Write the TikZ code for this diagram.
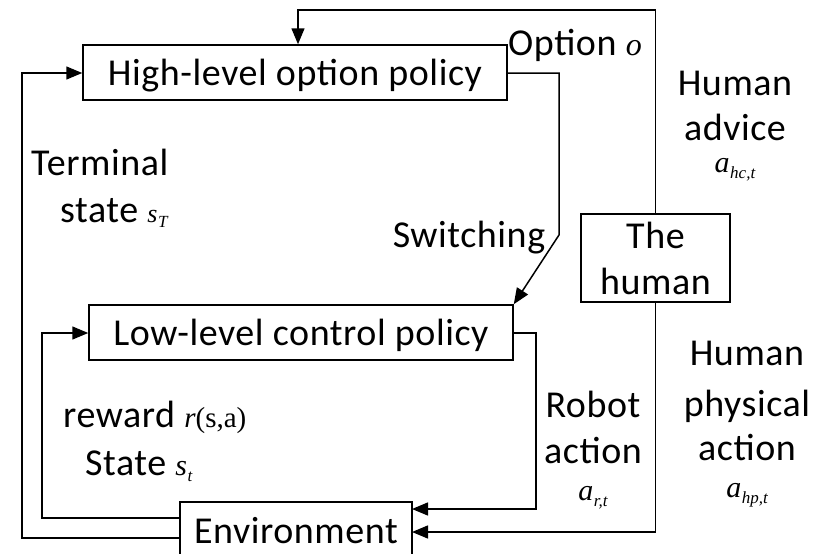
\documentclass[tikz,border=0pt]{standalone}
\usepackage{fontspec}
\setmainfont[LetterSpace=1.5]{Carlito}
\newfontfamily\tms{Liberation Serif}
\usetikzlibrary{arrows.meta}
% variable with a subscript, set in a Times-like italic
\newcommand\mvar[3][30]{{\tms\itshape\fontsize{#1}{#1}\selectfont #2\kern0.5pt\raisebox{-0.45ex}{\fontsize{17}{17}\selectfont #3}}}
\tikzset{
  box/.style={draw, line width=1.5pt, inner sep=0pt, font=\fontsize{38}{46}\selectfont},
  lbl/.style={inner sep=0pt, anchor=base, font=\fontsize{38}{46}\selectfont},
  lblw/.style={lbl, anchor=base west},
  link/.style={line width=1.5pt},
  arr/.style={link, -{Triangle[length=16pt,width=13pt]}}
}
\begin{document}
\begin{tikzpicture}[x=1pt,y=-1pt]
\useasboundingbox (0,0) rectangle (815,554);
\clip (0,0) rectangle (815,554);

% blocks
\node[box, minimum width=424pt, minimum height=55pt, text height=25pt, text depth=0pt]
  (high) at (295,72.5) {High-level option policy};
\node[box, minimum width=424pt, minimum height=55pt, text height=25pt, text depth=0pt]
  (low) at (301,332.5) {Low-level control policy};
\node[box, minimum width=149pt, minimum height=88pt, align=center]
  (human) at (655.5,258) {The\\human};
\node[box, minimum width=232pt, minimum height=58pt, text height=25pt, text depth=0pt]
  (env) at (296,531) {Environment};

% bend points
\coordinate (topleft) at (298,10);
\coordinate (hiout) at (559,73);
\coordinate (swbend) at (559,235);
\coordinate (loout) at (536,333);
\coordinate (envin1) at (412,509);
\coordinate (envin2) at (412,532);
\coordinate (envout1) at (180,518);
\coordinate (envout2) at (180,538);
\coordinate (loopin) at (42,333);
\coordinate (loopout) at (22,73);

% human advice back to the option policy
\draw[arr] (human.north) |- (topleft) -- (topleft |- high.north);
% option policy switches the control policy
\draw[arr] (high.east |- hiout) -- (hiout) -- (swbend) -- (low.north east);
% robot action into the environment
\draw[arr] (low.east |- loout) -| (loout |- envin1) -- (envin1);
% human physical action into the environment
\draw[arr] (human.south) |- (envin2);
% reward and state feedback to the control policy
\draw[arr] (envout1) -| (loopin) -- (low.west |- loopin);
% terminal state feedback to the option policy
\draw[arr] (envout2) -| (loopout) -- (high.west |- loopout);

% labels
\node[lblw] (opt) at (508,55) {Option {\tms\itshape\fontsize{32}{32}\selectfont o}};
\node[lbl] (ha1) at (735,95) {Human};
\node[lbl] (ha2) at (735,140) {advice};
\node[lbl] (ha3) at (735,172) {\mvar{a}{hc,t}};
\node[lblw] (ts1) at (31,175) {Terminal};
\node[lblw] (ts2) at (60,222) {state \mvar[26]{s}{T}};
\node[lbl] (sw) at (469,247) {Switching};
\node[lblw] (rw) at (63,427) {reward {\tms\fontsize{29}{29}\selectfont\textit{r}(s,a)}};
\node[lblw] (st) at (85,475) {State \mvar{s}{t}};
\node[lbl] (ra1) at (593,417) {Robot};
\node[lbl] (ra2) at (593,463) {action};
\node[lbl] (ra3) at (593,500) {\mvar{a}{r,t}};
\node[lbl] (hp1) at (747,365) {Human};
\node[lbl] (hp2) at (747,416) {physical};
\node[lbl] (hp3) at (747,460) {action};
\node[lbl] (hp4) at (747,497) {\mvar{a}{hp,t}};
\end{tikzpicture}
\end{document}
